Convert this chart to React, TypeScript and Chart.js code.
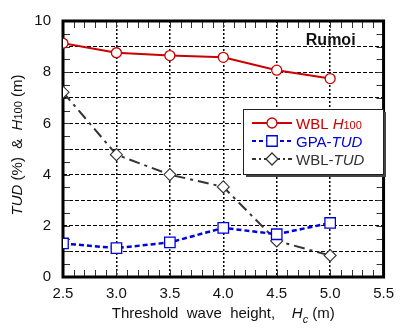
import React, { useEffect, useRef } from 'react';
import { Chart, registerables } from 'chart.js';

Chart.register(...registerables);

const FONT = '"Liberation Sans", Arial, Helvetica, sans-serif';

// Threshold wave heights (x)
const thresholds = [2.5, 3.0, 3.5, 4.0, 4.5, 5.0];
// WBL H100 (m)
const wblH100 = [9.13, 8.76, 8.65, 8.58, 8.08, 7.75];
// GPA-TUD (%)
const gpaTUD = [1.31, 1.13, 1.35, 1.92, 1.67, 2.11];
// WBL-TUD (%)
const wblTUD = [7.22, 4.78, 4.0, 3.52, 1.41, 0.84];

const X_MIN = 2.5;
const X_MAX = 5.5;
const Y_MIN = 0;
const Y_MAX = 10;

const RED = '#cc0000';
const BLUE = '#0000dd';
const GRAY = '#333333';

type Run = { t: string; italic?: boolean; bold?: boolean; small?: boolean; dy?: number; color?: string };

function drawRuns(
  ctx: CanvasRenderingContext2D,
  runs: Run[],
  x: number,
  y: number,
  align: 'left' | 'center' | 'right',
  size: number,
  color: string
) {
  const fontOf = (r: Run) =>
    `${r.italic ? 'italic ' : ''}${r.bold ? 'bold ' : ''}${r.small ? Math.round(size * 0.72) : size}px ${FONT}`;
  let total = 0;
  for (const r of runs) {
    ctx.font = fontOf(r);
    total += ctx.measureText(r.t).width;
  }
  let cx = align === 'center' ? x - total / 2 : align === 'right' ? x - total : x;
  ctx.textAlign = 'left';
  ctx.textBaseline = 'alphabetic';
  for (const r of runs) {
    ctx.font = fontOf(r);
    ctx.fillStyle = r.color || color;
    ctx.fillText(r.t, cx, y + (r.dy || 0) * size);
    cx += ctx.measureText(r.t).width;
  }
}

function drawMarker(ctx: CanvasRenderingContext2D, kind: string, x: number, y: number, r: number, color: string, lw: number) {
  ctx.save();
  ctx.setLineDash([]);
  ctx.beginPath();
  if (kind === 'circle') {
    ctx.arc(x, y, r, 0, Math.PI * 2);
  } else if (kind === 'rect') {
    const s = Math.SQRT1_2 * r;
    ctx.rect(x - s, y - s, 2 * s, 2 * s);
  } else {
    ctx.moveTo(x, y - r);
    ctx.lineTo(x + r, y);
    ctx.lineTo(x, y + r);
    ctx.lineTo(x - r, y);
    ctx.closePath();
  }
  ctx.fillStyle = '#ffffff';
  ctx.fill();
  ctx.lineWidth = lw;
  ctx.strokeStyle = color;
  ctx.stroke();
  ctx.restore();
}

const decorPlugin = {
  id: 'decor',
  beforeDatasetsDraw(chart: any) {
    const { ctx, chartArea: a, scales } = chart;
    const xs = scales.x;
    const ys = scales.y;
    ctx.save();
    ctx.strokeStyle = '#333';
    ctx.lineWidth = 1;
    ctx.setLineDash([]);
    const tl = 7;
    for (let v = Math.round(X_MIN * 10); v <= Math.round(X_MAX * 10); v++) {
      const px = Math.round(xs.getPixelForValue(v / 10)) + 0.5;
      ctx.beginPath();
      ctx.moveTo(px, a.top);
      ctx.lineTo(px, a.top + tl);
      ctx.moveTo(px, a.bottom);
      ctx.lineTo(px, a.bottom - tl);
      ctx.stroke();
    }
    for (let v = Y_MIN * 2; v <= Y_MAX * 2; v++) {
      const py = Math.round(ys.getPixelForValue(v / 2)) + 0.5;
      ctx.beginPath();
      ctx.moveTo(a.left, py);
      ctx.lineTo(a.left + tl, py);
      ctx.moveTo(a.right, py);
      ctx.lineTo(a.right - tl, py);
      ctx.stroke();
    }
    ctx.lineWidth = 3;
    ctx.strokeStyle = '#000';
    ctx.strokeRect(a.left, a.top, a.right - a.left, a.bottom - a.top);
    ctx.restore();
  },
  afterDraw(chart: any) {
    const { ctx, chartArea: a } = chart;
    ctx.save();

    // Station label
    drawRuns(ctx, [{ t: 'Rumoi', bold: true }], a.right - 28, a.top + 24, 'right', 16, '#111');

    // Legend box
    const lx = a.left + 180;
    const ly = a.top + 88;
    const lw = 140;
    const lh = 65;
    ctx.fillStyle = '#444';
    ctx.fillRect(lx + 3, ly + 3, lw, lh);
    ctx.fillStyle = '#fff';
    ctx.fillRect(lx, ly, lw, lh);
    ctx.lineWidth = 1;
    ctx.strokeStyle = '#222';
    ctx.strokeRect(lx + 0.5, ly + 0.5, lw, lh);

    const entries = [
      { color: RED, dash: [] as number[], width: 2, marker: 'circle', r: 5, runs: [{ t: 'WBL ' }, { t: 'H', italic: true }, { t: '100', small: true }] as Run[] },
      { color: BLUE, dash: [4, 3], width: 2, marker: 'rect', r: 7.4, runs: [{ t: 'GPA-' }, { t: 'TUD', italic: true }] as Run[] },
      { color: GRAY, dash: [4, 3, 2, 3], width: 2, marker: 'diamond', r: 6, runs: [{ t: 'WBL-' }, { t: 'TUD', italic: true }] as Run[] },
    ];
    entries.forEach((e, i) => {
      const cy = ly + 14 + i * 18;
      ctx.save();
      ctx.strokeStyle = e.color;
      ctx.lineWidth = e.width;
      ctx.setLineDash(e.dash);
      ctx.beginPath();
      ctx.moveTo(lx + 9, cy);
      ctx.lineTo(lx + 49, cy);
      ctx.stroke();
      ctx.restore();
      drawMarker(ctx, e.marker, lx + 29, cy, e.r, e.color, 1.3);
      drawRuns(ctx, e.runs, lx + 53, cy + 5.5, 'left', 15, e.color);
    });

    // X axis title
    drawRuns(
      ctx,
      [
        { t: 'Threshold  wave  height,    ' },
        { t: 'H', italic: true },
        { t: 'c', italic: true, small: true, dy: 0.3 },
        { t: ' (m)' },
      ],
      (a.left + a.right) / 2,
      318,
      'center',
      15,
      '#111'
    );

    // Y axis title
    ctx.save();
    ctx.translate(17, (a.top + a.bottom) / 2 - 4);
    ctx.rotate(-Math.PI / 2);
    drawRuns(
      ctx,
      [
        { t: 'TUD', italic: true },
        { t: ' (%)  &  ' },
        { t: 'H', italic: true },
        { t: '100', small: true },
        { t: ' (m)' },
      ],
      0,
      5,
      'center',
      15,
      '#111'
    );
    ctx.restore();

    ctx.restore();
  },
};

export default function App() {
  const ref = useRef<HTMLCanvasElement | null>(null);

  useEffect(() => {
    document.body.style.margin = '0';
    if (!ref.current) return;
    const toPts = (ys: number[]) => thresholds.map((x, i) => ({ x, y: ys[i] }));
    const chart = new Chart(ref.current, {
      type: 'line',
      data: {
        datasets: [
          {
            label: 'WBL H100',
            data: toPts(wblH100),
            borderColor: RED,
            borderWidth: 2,
            pointStyle: 'circle',
            pointRadius: 5,
            pointBorderWidth: 1.3,
            pointBackgroundColor: '#fff',
            pointBorderColor: RED,
            tension: 0,
          },
          {
            label: 'GPA-TUD',
            data: toPts(gpaTUD),
            borderColor: BLUE,
            borderWidth: 2.5,
            borderDash: [5, 3],
            pointStyle: 'rect',
            pointRadius: 7.4,
            pointBorderWidth: 1.3,
            pointBackgroundColor: '#fff',
            pointBorderColor: BLUE,
            tension: 0,
          },
          {
            label: 'WBL-TUD',
            data: toPts(wblTUD),
            borderColor: GRAY,
            borderWidth: 2,
            borderDash: [11, 5, 3, 5],
            pointStyle: 'rectRot',
            pointRadius: 6,
            pointBorderWidth: 1.1,
            pointBackgroundColor: '#fff',
            pointBorderColor: GRAY,
            tension: 0,
          },
        ],
      },
      options: {
        animation: false,
        responsive: false,
        maintainAspectRatio: false,
        layout: { padding: { top: 16, right: 11, left: 0, bottom: 0 } },
        plugins: {
          legend: { display: false },
          tooltip: { enabled: false },
          title: { display: false },
        },
        scales: {
          x: {
            type: 'linear',
            min: X_MIN,
            max: X_MAX,
            afterFit: (s: any) => {
              s.height = 56;
            },
            ticks: {
              stepSize: 0.5,
              padding: 8,
              color: '#111',
              font: { family: FONT, size: 15 },
              callback: (v: any) => Number(v).toFixed(1),
              maxRotation: 0,
            },
            grid: { color: '#000', lineWidth: 1.5, drawTicks: false },
            border: { display: false, dash: [2, 2] },
          },
          y: {
            type: 'linear',
            min: Y_MIN,
            max: Y_MAX,
            afterFit: (s: any) => {
              s.width = 63;
            },
            ticks: {
              stepSize: 1,
              padding: 12,
              color: '#111',
              font: { family: FONT, size: 15 },
              callback: (v: any) => (Number(v) % 2 === 0 ? String(v) : ''),
            },
            grid: { color: '#000', lineWidth: 1, drawTicks: false },
            border: { display: false, dash: [4, 2] },
          },
        },
      },
      plugins: [decorPlugin],
    });
    return () => chart.destroy();
  }, []);

  return (
    <div style={{ width: 402, height: 333, background: '#fff' }}>
      <canvas ref={ref} width={402} height={333} style={{ width: 402, height: 333, display: 'block' }} />
    </div>
  );
}
